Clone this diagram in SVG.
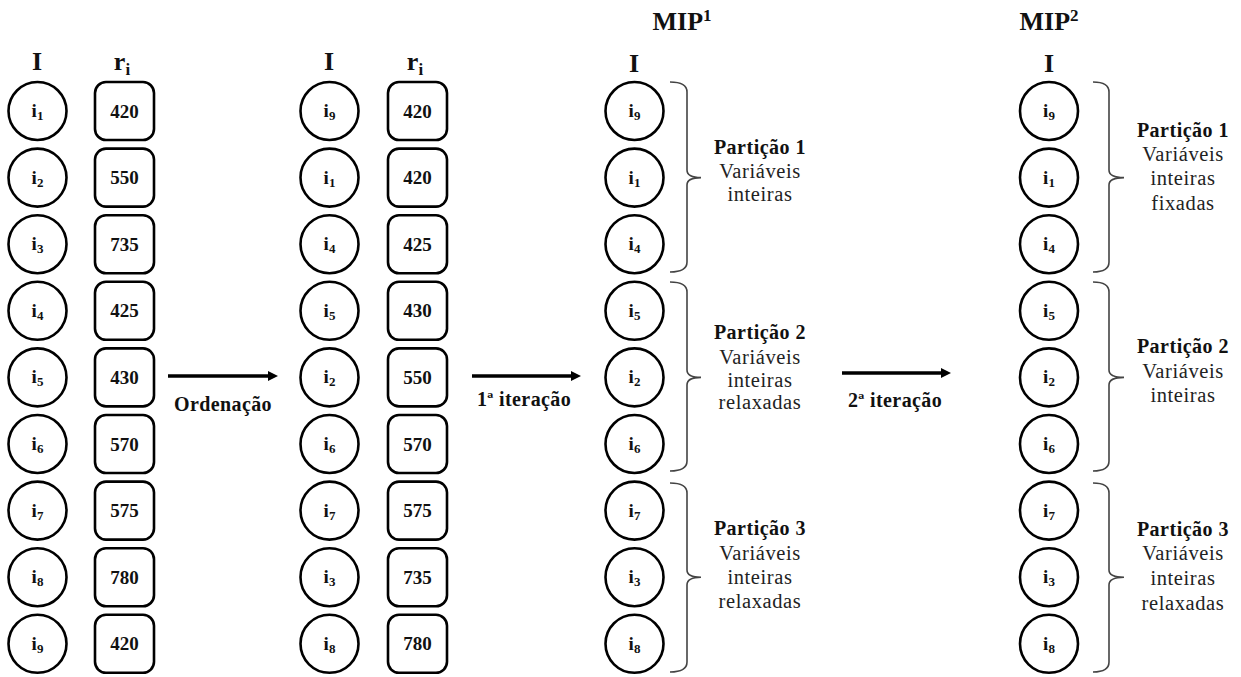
<svg xmlns="http://www.w3.org/2000/svg" width="1241" height="677" viewBox="0 0 1241 677">
<defs>
<style>
text{font-family:"Liberation Serif","DejaVu Serif",serif;fill:#111;text-anchor:middle}
.hd{font-size:26px;font-weight:bold}
.lbl{font-size:19px;font-weight:bold}
.num{font-size:19px;font-weight:bold}
.sub{font-size:13px}
.c{fill:#fff;stroke:#000;stroke-width:2.6}
.b{fill:#fff;stroke:#000;stroke-width:2.6}
.br{fill:none;stroke:#444;stroke-width:1.6}
.pt{font-size:20px;font-weight:bold;letter-spacing:0.5px}
.pv{font-size:20.5px;letter-spacing:0.6px;fill:#222}
.al{font-size:20px;font-weight:bold;letter-spacing:0.4px}
.ar{stroke:#000;stroke-width:3.5;fill:none}
</style>
<marker id="ah" markerWidth="10" markerHeight="10" refX="2" refY="5" orient="auto" markerUnits="userSpaceOnUse" viewBox="0 0 10 10">
<path d="M0,0 L10,5 L0,10 Z" fill="#000"/>
</marker>
</defs>
<rect width="1241" height="677" fill="#fff"/>

<!-- headers -->
<g id="headers">
<text class="hd" x="37" y="70">I</text>
<text class="hd" x="122" y="70">r<tspan font-size="17" dy="5">i</tspan></text>
<text class="hd" x="329" y="70">I</text>
<text class="hd" x="415" y="70">r<tspan font-size="17" dy="5">i</tspan></text>
<text class="hd" x="682" y="30">MIP<tspan font-size="17" dy="-9">1</tspan></text>
<text class="hd" x="634" y="72">I</text>
<text class="hd" x="1049" y="30">MIP<tspan font-size="17" dy="-9">2</tspan></text>
<text class="hd" x="1049" y="72">I</text>
</g>

<!-- column 1 -->
<g id="col1">
<g id="c1n1"><circle class="c" cx="37.5" cy="111" r="29"/><text class="lbl" x="37.5" y="117">i<tspan class="sub" dy="3">1</tspan></text></g>
<g id="c1n2"><circle class="c" cx="37.5" cy="177.6" r="29"/><text class="lbl" x="37.5" y="183.6">i<tspan class="sub" dy="3">2</tspan></text></g>
<g id="c1n3"><circle class="c" cx="37.5" cy="244.2" r="29"/><text class="lbl" x="37.5" y="250.2">i<tspan class="sub" dy="3">3</tspan></text></g>
<g id="c1n4"><circle class="c" cx="37.5" cy="310.8" r="29"/><text class="lbl" x="37.5" y="316.8">i<tspan class="sub" dy="3">4</tspan></text></g>
<g id="c1n5"><circle class="c" cx="37.5" cy="377.4" r="29"/><text class="lbl" x="37.5" y="383.4">i<tspan class="sub" dy="3">5</tspan></text></g>
<g id="c1n6"><circle class="c" cx="37.5" cy="444" r="29"/><text class="lbl" x="37.5" y="450">i<tspan class="sub" dy="3">6</tspan></text></g>
<g id="c1n7"><circle class="c" cx="37.5" cy="510.6" r="29"/><text class="lbl" x="37.5" y="516.6">i<tspan class="sub" dy="3">7</tspan></text></g>
<g id="c1n8"><circle class="c" cx="37.5" cy="577.2" r="29"/><text class="lbl" x="37.5" y="583.2">i<tspan class="sub" dy="3">8</tspan></text></g>
<g id="c1n9"><circle class="c" cx="37.5" cy="643.8" r="29"/><text class="lbl" x="37.5" y="649.8">i<tspan class="sub" dy="3">9</tspan></text></g>
</g>
<g id="col1r">
<g id="r1n1"><rect class="b" x="95" y="82" width="59" height="58" rx="11"/><text class="num" x="124.5" y="117.5">420</text></g>
<g id="r1n2"><rect class="b" x="95" y="148.6" width="59" height="58" rx="11"/><text class="num" x="124.5" y="184.1">550</text></g>
<g id="r1n3"><rect class="b" x="95" y="215.2" width="59" height="58" rx="11"/><text class="num" x="124.5" y="250.7">735</text></g>
<g id="r1n4"><rect class="b" x="95" y="281.8" width="59" height="58" rx="11"/><text class="num" x="124.5" y="317.3">425</text></g>
<g id="r1n5"><rect class="b" x="95" y="348.4" width="59" height="58" rx="11"/><text class="num" x="124.5" y="383.9">430</text></g>
<g id="r1n6"><rect class="b" x="95" y="415" width="59" height="58" rx="11"/><text class="num" x="124.5" y="450.5">570</text></g>
<g id="r1n7"><rect class="b" x="95" y="481.6" width="59" height="58" rx="11"/><text class="num" x="124.5" y="517.1">575</text></g>
<g id="r1n8"><rect class="b" x="95" y="548.2" width="59" height="58" rx="11"/><text class="num" x="124.5" y="583.7">780</text></g>
<g id="r1n9"><rect class="b" x="95" y="614.8" width="59" height="58" rx="11"/><text class="num" x="124.5" y="650.3">420</text></g>
</g>

<!-- column 2 -->
<g id="col2">
<g id="c2n1"><circle class="c" cx="329.5" cy="111" r="29"/><text class="lbl" x="329.5" y="117">i<tspan class="sub" dy="3">9</tspan></text></g>
<g id="c2n2"><circle class="c" cx="329.5" cy="177.6" r="29"/><text class="lbl" x="329.5" y="183.6">i<tspan class="sub" dy="3">1</tspan></text></g>
<g id="c2n3"><circle class="c" cx="329.5" cy="244.2" r="29"/><text class="lbl" x="329.5" y="250.2">i<tspan class="sub" dy="3">4</tspan></text></g>
<g id="c2n4"><circle class="c" cx="329.5" cy="310.8" r="29"/><text class="lbl" x="329.5" y="316.8">i<tspan class="sub" dy="3">5</tspan></text></g>
<g id="c2n5"><circle class="c" cx="329.5" cy="377.4" r="29"/><text class="lbl" x="329.5" y="383.4">i<tspan class="sub" dy="3">2</tspan></text></g>
<g id="c2n6"><circle class="c" cx="329.5" cy="444" r="29"/><text class="lbl" x="329.5" y="450">i<tspan class="sub" dy="3">6</tspan></text></g>
<g id="c2n7"><circle class="c" cx="329.5" cy="510.6" r="29"/><text class="lbl" x="329.5" y="516.6">i<tspan class="sub" dy="3">7</tspan></text></g>
<g id="c2n8"><circle class="c" cx="329.5" cy="577.2" r="29"/><text class="lbl" x="329.5" y="583.2">i<tspan class="sub" dy="3">3</tspan></text></g>
<g id="c2n9"><circle class="c" cx="329.5" cy="643.8" r="29"/><text class="lbl" x="329.5" y="649.8">i<tspan class="sub" dy="3">8</tspan></text></g>
</g>
<g id="col2r">
<g id="r2n1"><rect class="b" x="388" y="82" width="59" height="58" rx="11"/><text class="num" x="417.5" y="117.5">420</text></g>
<g id="r2n2"><rect class="b" x="388" y="148.6" width="59" height="58" rx="11"/><text class="num" x="417.5" y="184.1">420</text></g>
<g id="r2n3"><rect class="b" x="388" y="215.2" width="59" height="58" rx="11"/><text class="num" x="417.5" y="250.7">425</text></g>
<g id="r2n4"><rect class="b" x="388" y="281.8" width="59" height="58" rx="11"/><text class="num" x="417.5" y="317.3">430</text></g>
<g id="r2n5"><rect class="b" x="388" y="348.4" width="59" height="58" rx="11"/><text class="num" x="417.5" y="383.9">550</text></g>
<g id="r2n6"><rect class="b" x="388" y="415" width="59" height="58" rx="11"/><text class="num" x="417.5" y="450.5">570</text></g>
<g id="r2n7"><rect class="b" x="388" y="481.6" width="59" height="58" rx="11"/><text class="num" x="417.5" y="517.1">575</text></g>
<g id="r2n8"><rect class="b" x="388" y="548.2" width="59" height="58" rx="11"/><text class="num" x="417.5" y="583.7">735</text></g>
<g id="r2n9"><rect class="b" x="388" y="614.8" width="59" height="58" rx="11"/><text class="num" x="417.5" y="650.3">780</text></g>
</g>

<!-- column 3 (MIP1) -->
<g id="col3">
<g id="c3n1"><circle class="c" cx="634.5" cy="111" r="29"/><text class="lbl" x="634.5" y="117">i<tspan class="sub" dy="3">9</tspan></text></g>
<g id="c3n2"><circle class="c" cx="634.5" cy="177.6" r="29"/><text class="lbl" x="634.5" y="183.6">i<tspan class="sub" dy="3">1</tspan></text></g>
<g id="c3n3"><circle class="c" cx="634.5" cy="244.2" r="29"/><text class="lbl" x="634.5" y="250.2">i<tspan class="sub" dy="3">4</tspan></text></g>
<g id="c3n4"><circle class="c" cx="634.5" cy="310.8" r="29"/><text class="lbl" x="634.5" y="316.8">i<tspan class="sub" dy="3">5</tspan></text></g>
<g id="c3n5"><circle class="c" cx="634.5" cy="377.4" r="29"/><text class="lbl" x="634.5" y="383.4">i<tspan class="sub" dy="3">2</tspan></text></g>
<g id="c3n6"><circle class="c" cx="634.5" cy="444" r="29"/><text class="lbl" x="634.5" y="450">i<tspan class="sub" dy="3">6</tspan></text></g>
<g id="c3n7"><circle class="c" cx="634.5" cy="510.6" r="29"/><text class="lbl" x="634.5" y="516.6">i<tspan class="sub" dy="3">7</tspan></text></g>
<g id="c3n8"><circle class="c" cx="634.5" cy="577.2" r="29"/><text class="lbl" x="634.5" y="583.2">i<tspan class="sub" dy="3">3</tspan></text></g>
<g id="c3n9"><circle class="c" cx="634.5" cy="643.8" r="29"/><text class="lbl" x="634.5" y="649.8">i<tspan class="sub" dy="3">8</tspan></text></g>
</g>

<!-- column 4 (MIP2) -->
<g id="col4">
<g id="c4n1"><circle class="c" cx="1049" cy="111" r="29"/><text class="lbl" x="1049" y="117">i<tspan class="sub" dy="3">9</tspan></text></g>
<g id="c4n2"><circle class="c" cx="1049" cy="177.6" r="29"/><text class="lbl" x="1049" y="183.6">i<tspan class="sub" dy="3">1</tspan></text></g>
<g id="c4n3"><circle class="c" cx="1049" cy="244.2" r="29"/><text class="lbl" x="1049" y="250.2">i<tspan class="sub" dy="3">4</tspan></text></g>
<g id="c4n4"><circle class="c" cx="1049" cy="310.8" r="29"/><text class="lbl" x="1049" y="316.8">i<tspan class="sub" dy="3">5</tspan></text></g>
<g id="c4n5"><circle class="c" cx="1049" cy="377.4" r="29"/><text class="lbl" x="1049" y="383.4">i<tspan class="sub" dy="3">2</tspan></text></g>
<g id="c4n6"><circle class="c" cx="1049" cy="444" r="29"/><text class="lbl" x="1049" y="450">i<tspan class="sub" dy="3">6</tspan></text></g>
<g id="c4n7"><circle class="c" cx="1049" cy="510.6" r="29"/><text class="lbl" x="1049" y="516.6">i<tspan class="sub" dy="3">7</tspan></text></g>
<g id="c4n8"><circle class="c" cx="1049" cy="577.2" r="29"/><text class="lbl" x="1049" y="583.2">i<tspan class="sub" dy="3">3</tspan></text></g>
<g id="c4n9"><circle class="c" cx="1049" cy="643.8" r="29"/><text class="lbl" x="1049" y="649.8">i<tspan class="sub" dy="3">8</tspan></text></g>
</g>

<!-- braces -->
<g id="braces">
<path class="br" d="M670,82 Q687,82 687,92 L687,170 Q687,177.6 701,177.6 Q687,177.6 687,185 L687,262 Q687,272 670,272"/>
<path class="br" d="M670,282 Q687,282 687,292 L687,370 Q687,377.4 701,377.4 Q687,377.4 687,385 L687,461 Q687,471 670,471"/>
<path class="br" d="M670,483 Q687,483 687,493 L687,570 Q687,577.2 701,577.2 Q687,577.2 687,585 L687,662 Q687,672 670,672"/>
<path class="br" d="M1093,82 Q1109,82 1109,92 L1109,170 Q1109,177.6 1124,177.6 Q1109,177.6 1109,185 L1109,262 Q1109,272 1093,272"/>
<path class="br" d="M1093,282 Q1109,282 1109,292 L1109,370 Q1109,377.4 1124,377.4 Q1109,377.4 1109,385 L1109,461 Q1109,471 1093,471"/>
<path class="br" d="M1093,483 Q1109,483 1109,493 L1109,570 Q1109,577.2 1124,577.2 Q1109,577.2 1109,585 L1109,662 Q1109,672 1093,672"/>
</g>

<!-- partition labels -->
<g id="p1a"><text class="pt" x="760" y="154">Partição 1</text><text class="pv" x="760" y="178">Variáveis</text><text class="pv" x="760" y="201">inteiras</text></g>
<g id="p2a"><text class="pt" x="760" y="339">Partição 2</text><text class="pv" x="760" y="364">Variáveis</text><text class="pv" x="760" y="387">inteiras</text><text class="pv" x="760" y="409">relaxadas</text></g>
<g id="p3a"><text class="pt" x="760" y="535">Partição 3</text><text class="pv" x="760" y="560">Variáveis</text><text class="pv" x="760" y="584">inteiras</text><text class="pv" x="760" y="608">relaxadas</text></g>
<g id="p1b"><text class="pt" x="1183" y="137">Partição 1</text><text class="pv" x="1183" y="161">Variáveis</text><text class="pv" x="1183" y="185">inteiras</text><text class="pv" x="1183" y="210">fixadas</text></g>
<g id="p2b"><text class="pt" x="1183" y="353">Partição 2</text><text class="pv" x="1183" y="378">Variáveis</text><text class="pv" x="1183" y="402">inteiras</text></g>
<g id="p3b"><text class="pt" x="1183" y="536">Partição 3</text><text class="pv" x="1183" y="560">Variáveis</text><text class="pv" x="1183" y="585">inteiras</text><text class="pv" x="1183" y="610">relaxadas</text></g>

<!-- connectors -->
<g id="connectors">
<line class="ar" x1="168" y1="376" x2="270" y2="376" marker-end="url(#ah)"/>
<line class="ar" x1="472" y1="376" x2="573" y2="376" marker-end="url(#ah)"/>
<line class="ar" x1="842" y1="373" x2="943" y2="373" marker-end="url(#ah)"/>
<text class="al" x="223" y="411">Ordenação</text>
<text class="al" x="524" y="406">1ª iteração</text>
<text class="al" x="895" y="407">2ª iteração</text>
</g>
</svg>
